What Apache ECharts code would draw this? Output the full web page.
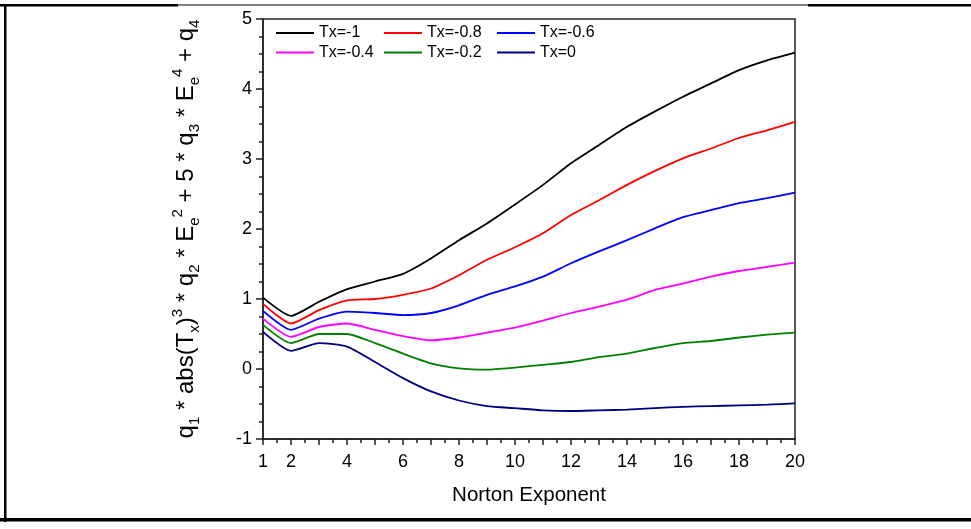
<!DOCTYPE html>
<html>
<head>
<meta charset="utf-8">
<script src="https://cdn.jsdelivr.net/npm/echarts@6/dist/echarts.min.js"></script>
<style>
  html, body { margin: 0; padding: 0; background: #fff; }
  #chart { width: 971px; height: 529px; }
</style>
</head>
<body>
<div id="chart"></div>
<script>
// x轴数据 (Norton Exponent)
var exponent = [1, 2, 3, 4, 5, 6, 7, 8, 9, 10, 11, 12, 13, 14, 15, 16, 17, 18, 19, 20];
// 每条曲线的数据
var txm10 = [1.02, 0.76, 0.96, 1.14, 1.25, 1.36, 1.58, 1.84, 2.08, 2.35, 2.63, 2.94, 3.20, 3.46, 3.68, 3.89, 4.08, 4.27, 4.41, 4.52];
var txm08 = [0.93, 0.65, 0.84, 0.98, 1.00, 1.06, 1.15, 1.34, 1.56, 1.74, 1.94, 2.20, 2.41, 2.63, 2.83, 3.01, 3.15, 3.30, 3.41, 3.53];
var txm06 = [0.83, 0.56, 0.72, 0.82, 0.80, 0.77, 0.80, 0.91, 1.06, 1.18, 1.32, 1.51, 1.68, 1.84, 2.01, 2.17, 2.27, 2.37, 2.44, 2.52];
var txm04 = [0.72, 0.46, 0.60, 0.65, 0.56, 0.47, 0.41, 0.45, 0.52, 0.59, 0.69, 0.80, 0.89, 0.99, 1.13, 1.22, 1.32, 1.40, 1.46, 1.52];
var txm02 = [0.63, 0.37, 0.50, 0.50, 0.37, 0.22, 0.08, 0.01, -0.01, 0.02, 0.06, 0.10, 0.17, 0.22, 0.30, 0.37, 0.40, 0.45, 0.49, 0.52];
var tx00 = [0.53, 0.26, 0.37, 0.32, 0.10, -0.13, -0.32, -0.45, -0.53, -0.56, -0.59, -0.60, -0.59, -0.58, -0.56, -0.54, -0.53, -0.52, -0.51, -0.49];
var seriesNames = ['Tx=-1', 'Tx=-0.8', 'Tx=-0.6', 'Tx=-0.4', 'Tx=-0.2', 'Tx=0'];
var seriesData = [txm10, txm08, txm06, txm04, txm02, tx00];
var myColor = ['#000000', '#ff0000', '#0000ff', '#ff00ff', '#008000', '#000080'];
// 刻度标签
var xLabels = [1, 2, 4, 6, 8, 10, 12, 14, 16, 18, 20];

var font = 'Liberation Sans, Arial, sans-serif';

var myChart = echarts.init(document.getElementById('chart'));

function pairs(arr) {
  return arr.map(function (y, i) { return [exponent[i], y]; });
}

function makeLegend(names, left) {
  return {
    orient: 'vertical',
    left: left,
    top: 24,
    padding: 0,
    itemGap: 1.5,
    itemWidth: 38,
    itemHeight: 2,
    icon: 'rect',
    data: names,
    textStyle: { color: '#000', fontSize: 16, fontFamily: font, lineHeight: 18 }
  };
}

var option = {
  animation: false,
  color: myColor,
  legend: [
    makeLegend(['Tx=-1', 'Tx=-0.4'], 276),
    makeLegend(['Tx=-0.8', 'Tx=-0.2'], 384),
    makeLegend(['Tx=-0.6', 'Tx=0'], 497)
  ],
  grid: {
    left: 263,
    right: 176,
    top: 19,
    bottom: 90,
    show: true,
    borderColor: '#222',
    borderWidth: 1.5
  },
  xAxis: {
    type: 'value',
    min: 1,
    max: 20,
    interval: 1,
    name: 'Norton Exponent',
    nameLocation: 'middle',
    nameGap: 46,
    nameTextStyle: { color: '#000', fontSize: 20.5, fontFamily: font },
    axisLine: { onZero: false, lineStyle: { color: '#222', width: 1.5 } },
    axisTick: { show: true, length: 6, lineStyle: { color: '#222', width: 1.5 } },
    minorTick: { show: true, splitNumber: 2, length: 4, lineStyle: { color: '#222', width: 1.5 } },
    axisLabel: {
      color: '#000', fontSize: 18, fontFamily: font, margin: 14,
      hideOverlap: false,
      // 奇数刻度的标签不显示（透明）
      formatter: function (val) {
        return xLabels.indexOf(val) >= 0 ? String(val) : '{h|' + val + '}';
      },
      rich: { h: { color: 'rgba(0,0,0,0)', fontSize: 18, fontFamily: font } }
    },
    splitLine: { show: false }
  },
  yAxis: {
    type: 'value',
    min: -1,
    max: 5,
    interval: 1,
    name: 'q{sub|1} * abs(T{sub|x}){sup|3} * q{sub|2} * E{sub|e}{sup|2} + 5 * q{sub|3} * E{sub|e}{sup|4} + q{sub|4}',
    nameLocation: 'middle',
    nameRotate: 90,
    nameGap: 61,
    nameTextStyle: {
      color: '#000', fontSize: 24, fontFamily: font, lineHeight: 32,
      rich: {
        sub: { fontSize: 15, fontFamily: font, color: '#000', lineHeight: 15, verticalAlign: 'bottom' },
        sup: { fontSize: 15, fontFamily: font, color: '#000', lineHeight: 15, verticalAlign: 'top' }
      }
    },
    axisLine: { show: true, onZero: false, lineStyle: { color: '#222', width: 1.5 } },
    axisTick: { show: true, length: 7, lineStyle: { color: '#222', width: 1.5 } },
    minorTick: { show: true, splitNumber: 4, length: 4, lineStyle: { color: '#222', width: 1.5 } },
    axisLabel: { color: '#000', fontSize: 18, fontFamily: font, margin: 11 },
    splitLine: { show: false }
  },
  series: seriesNames.map(function (name, i) {
    return {
      name: name,
      type: 'line',
      data: pairs(seriesData[i]),
      smooth: 0.2,
      symbol: 'none',
      lineStyle: { width: 1.8, color: myColor[i] },
      itemStyle: { color: myColor[i] }
    };
  }),
  // 外边框
  graphic: [
    { type: 'rect', shape: { x: 0, y: 4, width: 178, height: 2.5 }, style: { fill: '#000' } },
    { type: 'rect', shape: { x: 178, y: 4.5, width: 630, height: 1 }, style: { fill: '#000' } },
    { type: 'rect', shape: { x: 808, y: 4, width: 163, height: 2.5 }, style: { fill: '#000' } },
    { type: 'rect', shape: { x: 4, y: 4, width: 2.5, height: 518 }, style: { fill: '#000' } },
    { type: 'rect', shape: { x: 0, y: 518, width: 971, height: 3.5 }, style: { fill: '#000' } }
  ]
};

myChart.setOption(option);
window.addEventListener('resize', function () {
  myChart.resize();
});
</script>
</body>
</html>
